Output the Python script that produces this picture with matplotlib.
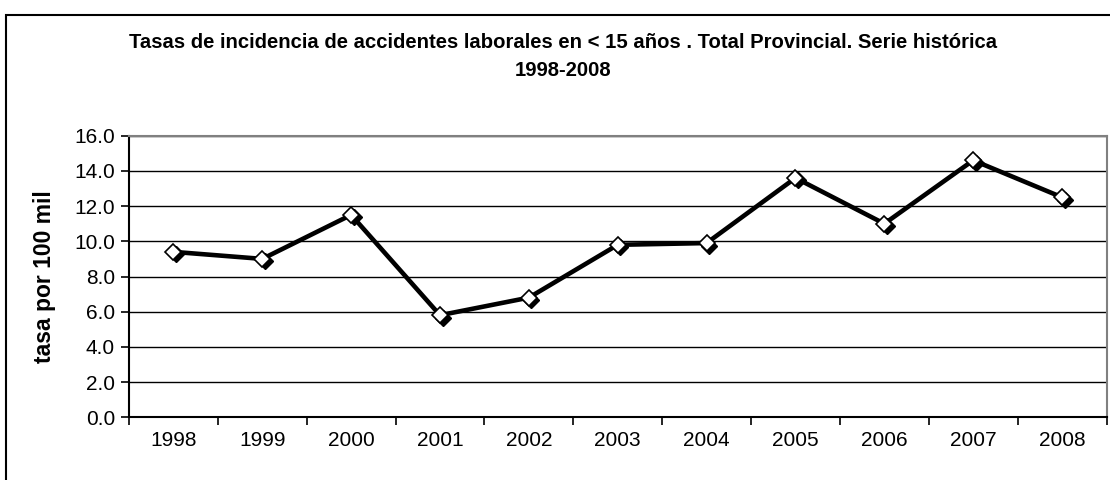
import matplotlib
matplotlib.use("Agg")
import matplotlib.pyplot as plt
import matplotlib.transforms as mtransforms
from matplotlib.patches import Rectangle

years = ["1998", "1999", "2000", "2001", "2002", "2003", "2004", "2005", "2006", "2007", "2008"]
rates = [9.4, 9.0, 11.5, 5.8, 6.8, 9.8, 9.9, 13.6, 11.0, 14.6, 12.5]
yticks = [0, 2, 4, 6, 8, 10, 12, 14, 16]

title = "Tasas de incidencia de accidentes laborales en < 15 años . Total Provincial. Serie histórica\n1998-2008"
ylabel = "tasa por 100 mil"

plt.rcParams['font.family'] = ['Liberation Sans', 'DejaVu Sans']

fig = plt.figure(figsize=(11.1, 4.8), dpi=100)
ax = fig.add_axes([129/1110, 1-417.3/480, (1106.5-129)/1110, (417.3-135.7)/480])

# outer border
fig.patches.append(Rectangle((6/1110, -0.1), 1.2, (480-14.5)/480 + 0.1,
                             transform=fig.transFigure, fill=False,
                             edgecolor='black', linewidth=1.5))

x = list(range(len(years)))
ax.set_xlim(-0.5, len(years) - 0.5)
ax.set_ylim(0, 16)

for v in yticks:
    ax.axhline(v, color='black', linewidth=1.0, zorder=1)

ax.plot(x, rates, color='black', linewidth=3.3, zorder=3, solid_joinstyle='miter')
shadow = mtransforms.offset_copy(ax.transData, fig=fig, x=2.5, y=-2.5, units='dots')
ax.plot(x, rates, linestyle='none', marker='D', markersize=8.5, markerfacecolor='black',
        markeredgecolor='black', transform=shadow, zorder=4)
ax.plot(x, rates, linestyle='none', marker='D', markersize=8.5, markerfacecolor='white',
        markeredgecolor='black', markeredgewidth=1.2, zorder=5)

ax.set_yticks(yticks)
ax.set_yticklabels([f"{v:.1f}" for v in yticks], fontsize=15)
ax.set_xticks(x)
ax.set_xticklabels(years, fontsize=15)
ax.tick_params(axis='x', which='major', length=0, pad=10)
ax.set_xticks([i - 0.5 for i in range(len(years) + 1)], minor=True)
ax.tick_params(axis='x', which='minor', length=6, width=1.2, direction='out', color='black')
ax.tick_params(axis='y', which='major', length=6, width=1.2, direction='out', pad=4)

for side in ['left', 'bottom']:
    ax.spines[side].set_color('black')
    ax.spines[side].set_linewidth(1.5)
for side in ['top', 'right']:
    ax.spines[side].set_color('#808080')
    ax.spines[side].set_linewidth(1.5)

ax.set_ylabel(ylabel, fontsize=16.5, fontweight='bold')
ax.yaxis.set_label_coords((45 - 129) / (1106.5 - 129), 0.5)
ax.yaxis.label.set_va('center')

fig.text(563.5/1110, 1 - 57/480, title, ha='center', va='center', fontsize=14.6,
         fontweight='bold', linespacing=1.6)

fig.savefig("out.png", dpi=100)
